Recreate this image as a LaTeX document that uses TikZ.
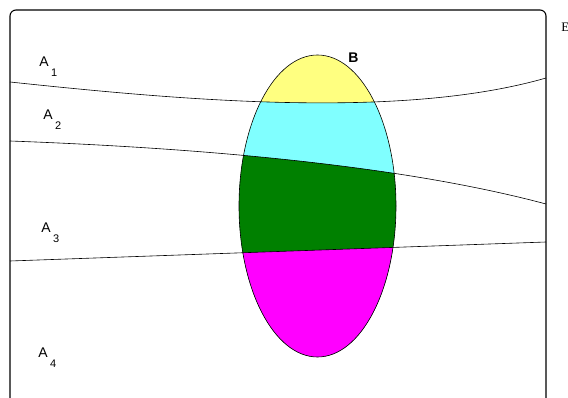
\documentclass[tikz,border=0pt]{standalone}
\usepackage{fontspec}
\setmainfont{Liberation Sans}
\newfontfamily\timesfont{Liberation Serif}
\definecolor{partA}{HTML}{FFFF80}
\definecolor{partB}{HTML}{80FFFF}
\definecolor{partC}{HTML}{008000}
\definecolor{partD}{HTML}{FF00FF}
\newcommand{\setlabel}[2]{#1\kern2.5pt\raisebox{-10pt}{\fontsize{11}{13}\selectfont #2}}

\begin{document}
\begin{tikzpicture}[x=1pt,y=-1pt,line width=0.6pt,
  lbl/.style={anchor=base west,inner sep=0pt,font=\fontsize{14}{16}\selectfont}]
  \clip (0,0) rectangle (568,398);
  \draw[line width=1.1pt,rounded corners=6pt] (10,420) -- (10,10) -- (546,10) -- (546,420);
  % parts of B
  \begin{scope}
    \clip (317.5,206) ellipse (78.5pt and 151pt);
    \fill[partA] (220,40) rectangle (420,370);
    \fill[partB] (10,82) .. controls (180,100) and (400,120) .. (546,78) -- (546,398) -- (10,398) -- cycle;
    \fill[partC] (10,141) .. controls (200,148) and (400,165) .. (546,204) -- (546,398) -- (10,398) -- cycle;
    \fill[partD] (10,261) -- (546,242) -- (546,398) -- (10,398) -- cycle;
  \end{scope}
  \draw (10,82) .. controls (180,100) and (400,120) .. (546,78);
  \draw (10,141) .. controls (200,148) and (400,165) .. (546,204);
  \draw (10,261) -- (546,242);
  \draw (317.5,206) ellipse (78.5pt and 151pt);
  \node[lbl] (a1) at (39,67) {\setlabel{A}{1}};
  \node[lbl] (a2) at (43,120) {\setlabel{A}{2}};
  \node[lbl] (a3) at (41,233) {\setlabel{A}{3}};
  \node[lbl] (a4) at (38,357) {\setlabel{A}{4}};
  \node[lbl,font=\fontsize{14}{16}\selectfont\bfseries] (b) at (348,63) {B};
  \node[anchor=base west,inner sep=0pt,font=\timesfont\fontsize{13}{15}\selectfont] (e) at (561,32) {E};
\end{tikzpicture}
\end{document}
